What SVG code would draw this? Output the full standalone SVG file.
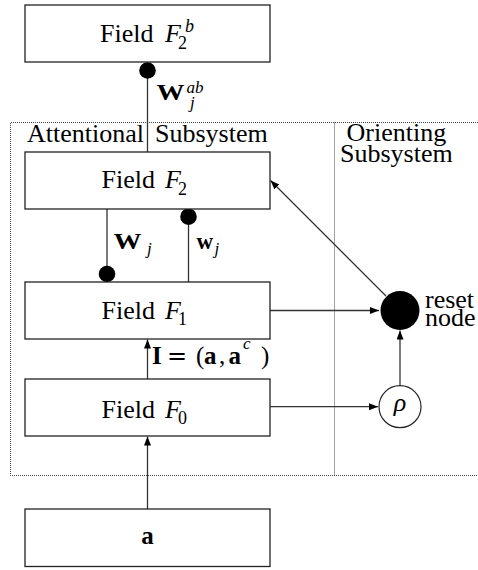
<svg xmlns="http://www.w3.org/2000/svg" width="478" height="570" viewBox="0 0 478 570">
<style>
  .box { fill: #fff; stroke: #222; stroke-width: 1.3; }
  .line { fill: none; stroke: #333; stroke-width: 1.3; }
  .dot { fill: #000; }
  .region { fill: none; stroke: #444; stroke-width: 1; stroke-dasharray: 1 1; }
  text { font-family: "Liberation Serif", "Times New Roman", serif; fill: #000; }
  .lbl { font-size: 26px; }
  .it { font-style: italic; }
  .bf { font-weight: bold; }
  .sub { font-size: 18px; font-style: normal; }
  .ss { font-size: 17px; font-style: italic; font-weight: normal; }
</style>
<defs>
  <marker id="arr" markerUnits="userSpaceOnUse" markerWidth="10" markerHeight="8" refX="9" refY="3.5" orient="auto">
    <path d="M0,0 L9,3.5 L0,7 z" fill="#000"/>
  </marker>
</defs>

<g id="regions">
  <path class="region" d="M478,122.5 H10.5 V475.5 H478"/>
  <line class="region" x1="334.5" y1="122.5" x2="334.5" y2="475.5"/>
  <text class="lbl" x="27" y="142">Attentional<tspan x="155">Subsystem</tspan></text>
  <text class="lbl"><tspan x="346.5" y="141">Orienting</tspan><tspan x="340" y="161.5">Subsystem</tspan></text>
</g>

<g id="connectors">
  <line class="line" x1="147.5" y1="70" x2="147.5" y2="152"/>
  <circle class="dot" cx="147.5" cy="70.5" r="8.3"/>
  <text class="bf" font-size="23"><tspan x="156.5" y="100" textLength="28" lengthAdjust="spacingAndGlyphs">W</tspan><tspan class="ss" x="186.5" y="92.5">ab</tspan><tspan class="ss" x="190" y="108">j</tspan></text>

  <line class="line" x1="107" y1="209" x2="107" y2="274"/>
  <circle class="dot" cx="107" cy="274" r="8.3"/>
  <text class="bf" font-size="23"><tspan x="113.5" y="249" textLength="28" lengthAdjust="spacingAndGlyphs">W</tspan><tspan class="ss" x="147" y="254">j</tspan></text>

  <line class="line" x1="188.5" y1="217" x2="188.5" y2="282"/>
  <circle class="dot" cx="188.5" cy="216.7" r="8.3"/>
  <text class="bf" font-size="23"><tspan x="196.5" y="249">w</tspan><tspan class="ss" x="214.5" y="254">j</tspan></text>

  <line class="line" x1="147.5" y1="379" x2="147.5" y2="339.5" marker-end="url(#arr)"/>
  <text font-size="25"><tspan x="152" y="364.3" class="bf">I</tspan><tspan x="167" y="364.3" font-family="DejaVu Serif" font-size="24">=</tspan><tspan x="196" y="364.3">(</tspan><tspan x="204" y="364.3" class="bf">a</tspan><tspan x="219" y="364.3">,</tspan><tspan x="228.5" y="364.3" class="bf">a</tspan><tspan x="243" y="348.5" class="ss">c</tspan><tspan x="261" y="364.3">)</tspan></text>

  <line class="line" x1="147.5" y1="509" x2="147.5" y2="436.5" marker-end="url(#arr)"/>
  <line class="line" x1="270" y1="310.5" x2="379" y2="310.5" marker-end="url(#arr)"/>
  <line class="line" x1="270" y1="406.7" x2="378" y2="406.7" marker-end="url(#arr)"/>
  <line class="line" x1="400" y1="385.5" x2="400" y2="330.5" marker-end="url(#arr)"/>
  <line class="line" x1="386" y1="296" x2="270.5" y2="180.5" stroke-width="1.1" marker-end="url(#arr)"/>
</g>

<g id="node-f2b">
  <rect class="box" x="25" y="5" width="245" height="57"/>
  <text class="lbl"><tspan x="100" y="42">Field</tspan><tspan class="it" x="165" y="42">F</tspan><tspan class="sub" x="185" y="32" style="font-style:italic">b</tspan><tspan class="sub" x="178" y="49">2</tspan></text>
</g>

<g id="node-f2">
  <rect class="box" x="25" y="152" width="245" height="57"/>
  <text class="lbl"><tspan x="101.5" y="188">Field</tspan><tspan class="it" x="165" y="188">F</tspan><tspan class="sub" x="178" y="194.5">2</tspan></text>
</g>

<g id="node-f1">
  <rect class="box" x="25" y="282" width="245" height="57"/>
  <text class="lbl"><tspan x="101.5" y="318.5">Field</tspan><tspan class="it" x="165" y="318.5">F</tspan><tspan class="sub" x="178" y="325">1</tspan></text>
</g>

<g id="node-f0">
  <rect class="box" x="25" y="379" width="245" height="57"/>
  <text class="lbl"><tspan x="101.5" y="417.5">Field</tspan><tspan class="it" x="165" y="417.5">F</tspan><tspan class="sub" x="178" y="424">0</tspan></text>
</g>

<g id="node-a">
  <rect class="box" x="25" y="509" width="245" height="57.5"/>
  <text class="bf" font-size="25" x="147.5" y="544" text-anchor="middle">a</text>
</g>

<g id="node-reset">
  <circle cx="400" cy="310.5" r="19.5" fill="#000"/>
  <text class="lbl"><tspan x="425" y="308">reset</tspan><tspan x="425" y="326">node</tspan></text>
</g>

<g id="node-rho">
  <circle cx="400" cy="406.7" r="21" fill="#fff" stroke="#222" stroke-width="1.2"/>
  <text class="lbl it" x="400" y="411" text-anchor="middle">ρ</text>
</g>
</svg>
